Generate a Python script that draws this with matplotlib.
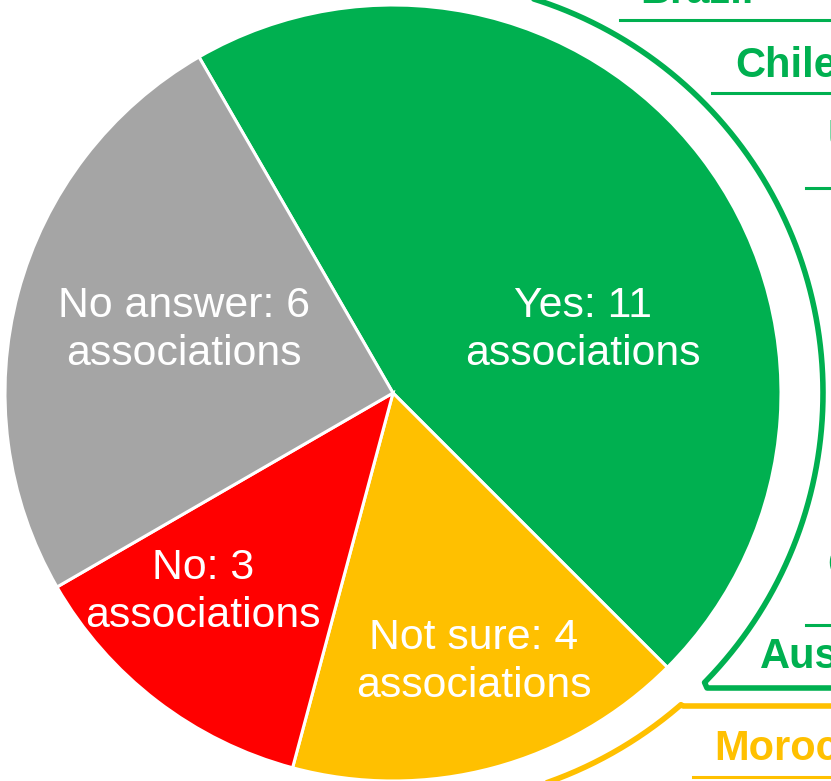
import numpy as np
import matplotlib
matplotlib.use('Agg')
import matplotlib.pyplot as plt

# answers
labels = ['Yes: 11\nassociations', 'Not sure: 4\nassociations',
          'No: 3\nassociations', 'No answer: 6\nassociations']
counts = [11, 4, 3, 6]
colors = ['#00B050', '#FFC000', '#FF0000', '#A5A5A5']

# countries listed next to the arcs (cropped by the figure edge)
countries = ['Brazil', 'Chile', 'USA', 'Canada', 'Australia', 'Morocco']
country_colors = ['#00B050'] * 5 + ['#FFC000']

W, H = 831, 781
GREEN = '#00B050'
YELLOW = '#FFC000'

plt.rcParams['font.family'] = ['Liberation Sans', 'DejaVu Sans']

fig = plt.figure(figsize=(W / 100, H / 100), dpi=100)
ax = fig.add_axes([0, 0, 1, 1])

def Y(y):
    # pixel row -> data y (y up)
    return H - y

cx, cy, r = 393, 393, 388
ax.pie(counts, colors=colors, startangle=120, counterclock=False,
       center=(cx, Y(cy)), radius=r,
       wedgeprops=dict(edgecolor='white', linewidth=2.2))

label_pos = [(583, 330), (474, 662), (203, 592), (184, 330)]
for lab, (x, y) in zip(labels, label_pos):
    ax.text(x, Y(y), lab, color='white', fontsize=30.8,
            ha='center', va='center', linespacing=1.28)

# bracket arcs
acx, acy, ar = 410, 393, 413
t = np.radians(np.linspace(85, -44.5, 300))
gx = list(acx + ar * np.cos(t)) + [707, 900]
gy = list(Y(acy) + ar * np.sin(t)) + [Y(688), Y(688)]
ax.plot(gx, gy, color=GREEN, lw=4.0, solid_joinstyle='round',
        solid_capstyle='round')

t = np.radians(np.linspace(-80, -49, 200))
yx = list(acx + ar * np.cos(t)) + [683, 900]
yy = list(Y(acy) + ar * np.sin(t)) + [Y(706), Y(706)]
ax.plot(yx, yy, color=YELLOW, lw=4.0, solid_joinstyle='round')

# separator lines
seps = [(620, 20, GREEN), (712, 93, GREEN), (806, 188, GREEN),
        (806, 625, GREEN), (693, 777, YELLOW)]
for x0, y, c in seps:
    ax.plot([x0, 900], [Y(y), Y(y)], color=c, lw=2.2)

# country names
name_pos = [(640, 3), (735, 77), (828, 149), (827, 577), (760, 668),
            (714, 760)]
for name, c, (x, y) in zip(countries, country_colors, name_pos):
    ax.text(x, Y(y), name, color=c, fontsize=30, fontweight='bold',
            ha='left', va='baseline')

ax.set_xlim(0, W)
ax.set_ylim(0, H)
ax.set_aspect('auto')
ax.axis('off')

fig.savefig('out.png', dpi=100)
